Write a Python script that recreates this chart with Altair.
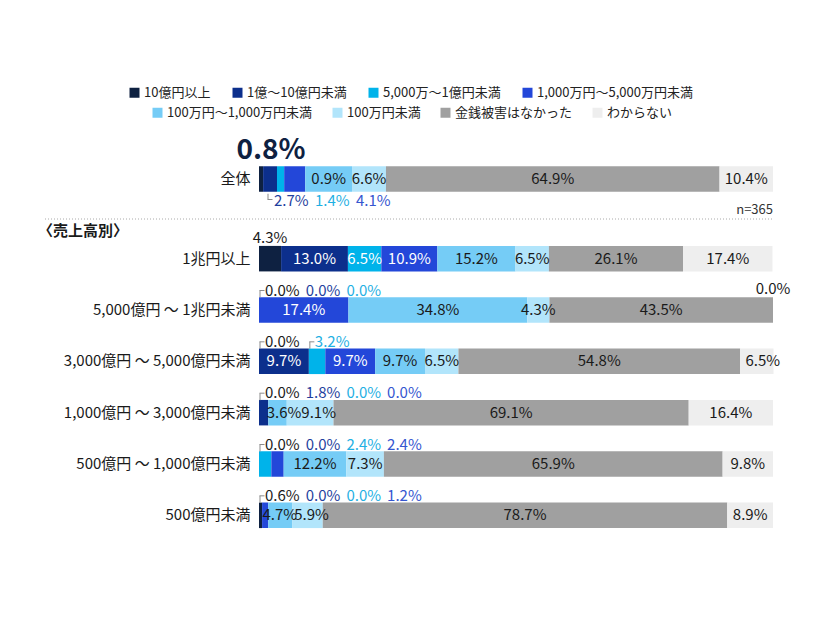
import altair as alt
import pandas as pd

# ---------------- data ----------------
SERIES = [
    "10億円以上", "1億～10億円未満", "5,000万～1億円未満", "1,000万円～5,000万円未満",
    "100万円～1,000万円未満", "100万円未満", "金銭被害はなかった", "わからない",
]
TOTAL_ROW = "全体"
ROWS = [
    "1兆円以上",
    "5,000億円 ～ 1兆円未満",
    "3,000億円 ～ 5,000億円未満",
    "1,000億円 ～ 3,000億円未満",
    "500億円 ～ 1,000億円未満",
    "500億円未満",
]
V_TOTAL = [0.8, 2.7, 1.4, 4.1, 9.1, 6.6, 64.9, 10.4]
V_1CHO = [4.3, 13.0, 6.5, 10.9, 15.2, 6.5, 26.1, 17.4]
V_5000 = [0.0, 0.0, 0.0, 17.4, 34.8, 4.3, 43.5, 0.0]
V_3000 = [0.0, 9.7, 3.2, 9.7, 9.7, 6.5, 54.8, 6.5]
V_1000 = [0.0, 1.8, 0.0, 0.0, 3.6, 9.1, 69.1, 16.4]
V_500_1000 = [0.0, 0.0, 2.4, 2.4, 12.2, 7.3, 65.9, 9.8]
V_500 = [0.6, 0.0, 0.0, 1.2, 4.7, 5.9, 78.7, 8.9]
N_TEXT = "n=365"
HEADER = "〈売上高別〉"
# text printed in the source for the 全体 / 100万円～1,000万円未満 segment
TOTAL_TEXT_OVERRIDE = {4: "0.9%"}

# label placement choices (series indices)
ABOVE_SEQ = {ROWS[1]: [0, 1, 2], ROWS[2]: [0], ROWS[3]: [0, 1, 2, 3],
             ROWS[4]: [0, 1, 2, 3], ROWS[5]: [0, 1, 2, 3]}
ABOVE_AT_SEGMENT = {ROWS[2]: [2]}
ABOVE_CENTERED = {ROWS[0]: [0], ROWS[1]: [7]}
TOTAL_BELOW_SEQ = [1, 2, 3]
TOTAL_BIG = 0
# small pixel nudges of some inside labels (row, series index) -> dx
INSIDE_DX = {(ROWS[2], 7): 6, (ROWS[3], 4): 6.5, (ROWS[3], 5): 8.5,
             (ROWS[5], 4): -0.5, (ROWS[5], 5): 4}

# ---------------- styles ----------------
BAR_COLORS = ["#0e2141", "#0c2f8c", "#00b3ea", "#2347d9",
              "#75ccf6", "#b2e5fb", "#a0a0a0", "#eeeeee"]
INSIDE_TEXT_COLORS = ["#ffffff"] * 4 + ["#1a1a1a"] * 4
OUTSIDE_TEXT_COLORS = ["#1a1a1a", "#1f3f9e", "#1fb0e3", "#3556d0"] + ["#1a1a1a"] * 4
FONT = "Noto Sans CJK JP"
BRACKET = "#8c8c8c"
BAR_SIZE = 25.5
SLOT = 40.7

# ---------------- tables ----------------
ROW_VALUES = dict(zip([TOTAL_ROW] + ROWS,
                      [V_TOTAL, V_1CHO, V_5000, V_3000, V_1000, V_500_1000, V_500]))
recs = []
for row, vals in ROW_VALUES.items():
    cum = 0.0
    for i, (s, v) in enumerate(zip(SERIES, vals)):
        text = f"{v:.1f}%"
        if row == TOTAL_ROW and i in TOTAL_TEXT_OVERRIDE:
            text = TOTAL_TEXT_OVERRIDE[i]
        recs.append(dict(row=row, series=s, idx=i, value=v, start=cum, end=cum + v,
                         mid=cum + v / 2, text=text, nudge=INSIDE_DX.get((row, i), 0),
                         inside=(v > 0) if i >= 4 else (v >= 5)))
        cum += v
seg = pd.DataFrame(recs)


def seg_at(row, i):
    return seg[(seg.row == row) & (seg.idx == i)].iloc[0]


above = []
for row, idxs in ABOVE_SEQ.items():
    for slot, i in enumerate(idxs):
        r = seg_at(row, i)
        above.append(dict(row=row, series=r.series, text=r.text, anchor=0.0,
                          slot=slot, bracket=slot == 0))
for row, idxs in ABOVE_AT_SEGMENT.items():
    for i in idxs:
        r = seg_at(row, i)
        above.append(dict(row=row, series=r.series, text=r.text, anchor=r.start,
                          slot=0, bracket=True))
above = pd.DataFrame(above)

centered = pd.DataFrame([dict(row=row, series=seg_at(row, i).series,
                              text=seg_at(row, i).text, x=seg_at(row, i).mid)
                         for row, idxs in ABOVE_CENTERED.items() for i in idxs])

below = pd.DataFrame([dict(row=TOTAL_ROW, series=seg_at(TOTAL_ROW, i).series,
                           text=seg_at(TOTAL_ROW, i).text, anchor=0.0, slot=k)
                      for k, i in enumerate(TOTAL_BELOW_SEQ)])
big = pd.DataFrame([dict(row=TOTAL_ROW, text=seg_at(TOTAL_ROW, TOTAL_BIG).text, anchor=0.0)])
ntab = pd.DataFrame([dict(row=TOTAL_ROW, text=N_TEXT,
                          anchor=seg[seg.row == TOTAL_ROW].end.max())])
header = pd.DataFrame([dict(t=HEADER)])

# ---------------- encodings ----------------
XS = alt.Scale(domain=[0, 100], nice=False, zero=True)
AX = dict(title=None, domain=False, ticks=False, labelPadding=9, labelFontSize=15,
          labelLimit=400, labelColor="#1a1a1a", labelFont=FONT)
YT = alt.Y("row:N", scale=alt.Scale(domain=[TOTAL_ROW]), axis=alt.Axis(**AX))
YB = alt.Y("row:N", scale=alt.Scale(domain=ROWS, paddingInner=0.5, paddingOuter=0.25),
           axis=alt.Axis(**AX))
INSIDE_COLOR = alt.Color("series:N", scale=alt.Scale(domain=SERIES, range=INSIDE_TEXT_COLORS),
                         legend=None)
OUT_COLOR = alt.Color("series:N", scale=alt.Scale(domain=SERIES, range=OUTSIDE_TEXT_COLORS),
                      legend=None)


def legend(x, y, pad):
    return alt.Legend(orient="none", legendX=x, legendY=y, direction="horizontal",
                      title=None, symbolType="square", symbolSize=100,
                      symbolStrokeWidth=0, labelFontSize=13, labelColor="#222222",
                      labelFont=FONT, labelLimit=400, columnPadding=pad, labelOffset=3,
                      padding=0)


def bars(df, Y, color):
    return alt.Chart(df).mark_bar(size=BAR_SIZE).encode(
        x=alt.X("start:Q", scale=XS, axis=None), x2="end:Q", y=Y, color=color)


def inside_text(df, Y):
    layers = []
    d = df[df.inside]
    for n in sorted(d.nudge.unique()):
        layers.append(alt.Chart(d[d.nudge == n]).mark_text(
            fontSize=15, align="center", baseline="middle", font=FONT, dx=float(n)).encode(
            x=alt.X("mid:Q", scale=XS), y=Y, text="text:N", color=INSIDE_COLOR))
    return layers


def brackets(df, Y, xo_v, yo_v, size_v, xo_h, yo_h, size_h):
    v = alt.Chart(df).mark_tick(orient="vertical", size=size_v, thickness=1, color=BRACKET,
                                xOffset=xo_v, yOffset=yo_v, opacity=1).encode(
        x=alt.X("anchor:Q", scale=XS), y=Y)
    h = alt.Chart(df).mark_tick(orient="horizontal", size=size_h, thickness=1, color=BRACKET,
                                xOffset=xo_h, yOffset=yo_h, opacity=1).encode(
        x=alt.X("anchor:Q", scale=XS), y=Y)
    return [v, h]


# ---------------- top (全体) ----------------
top_seg = seg[seg.row == TOTAL_ROW]
top_layers = [
    bars(top_seg[top_seg.idx < 4], YT,
         alt.Color("series:N", scale=alt.Scale(domain=SERIES[:4], range=BAR_COLORS[:4]),
                   legend=legend(-131, -73, 20))),
    bars(top_seg[top_seg.idx >= 4], YT,
         alt.Color("series:N", scale=alt.Scale(domain=SERIES[4:], range=BAR_COLORS[4:]),
                   legend=legend(-108, -53, 18))),
    *inside_text(top_seg, YT),
    alt.Chart(big).mark_text(fontSize=28, fontWeight="bold", align="center",
                             baseline="middle", dx=12, dy=-28.5, color="#0e2141",
                             font=FONT).encode(
        x=alt.X("anchor:Q", scale=XS), y=YT, text="text:N"),
    alt.Chart(ntab).mark_text(fontSize=13, align="right", baseline="middle", dy=30.5,
                              color="#333333", font=FONT).encode(
        x=alt.X("anchor:Q", scale=XS), y=YT, text="text:N"),
]
for k in range(len(TOTAL_BELOW_SEQ)):
    top_layers.append(
        alt.Chart(below[below.slot == k]).mark_text(
            fontSize=15, align="left", baseline="middle", dx=15 + k * 41, dy=21.5,
            font=FONT).encode(x=alt.X("anchor:Q", scale=XS), y=YT, text="text:N",
                              color=OUT_COLOR))
top_layers += brackets(big, YT, 9, 17.5, 5.5, 11, 20.5, 5)
top = alt.layer(*top_layers).properties(width=514, height=40).resolve_scale(color="independent")

# ---------------- bottom (売上高別) ----------------
bot_seg = seg[seg.row != TOTAL_ROW]
bot_layers = [
    bars(bot_seg, YB, alt.Color("series:N", scale=alt.Scale(domain=SERIES, range=BAR_COLORS),
                                legend=None)),
    *inside_text(bot_seg, YB),
    alt.Chart(centered).mark_text(fontSize=15, align="center", baseline="middle", dy=-21,
                                  font=FONT).encode(
        x=alt.X("x:Q", scale=XS), y=YB, text="text:N", color=OUT_COLOR),
]
for k in range(4):
    bot_layers.append(
        alt.Chart(above[above.slot == k]).mark_text(
            fontSize=15, align="left", baseline="middle", dx=6 + k * SLOT, dy=-19.5,
            font=FONT).encode(x=alt.X("anchor:Q", scale=XS), y=YB, text="text:N",
                              color=OUT_COLOR))
bot_layers += brackets(above[above.bracket], YB, 1, -16, 7, 3, -19.5, 5)
bot_layers += [
    alt.Chart(header).mark_rule(strokeDash=[1, 2], color="#aaaaaa", strokeWidth=1).encode(
        x=alt.value(-214), x2=alt.value(514), y=alt.value(-14)),
    alt.Chart(header).mark_text(align="left", baseline="middle", fontSize=15,
                                fontWeight="bold", color="#1a1a1a", font=FONT).encode(
        x=alt.value(-221), y=alt.value(-2), text="t:N"),
]
bottom = alt.layer(*bot_layers).properties(width=514, height=308).resolve_scale(color="independent")

chart = alt.vconcat(top, bottom, spacing=34, bounds="flush").resolve_scale(
    color="independent").properties(
    padding={"left": 38, "top": 86, "right": 10, "bottom": 10}
).configure(font=FONT).configure_view(stroke=None)

chart.save("out.html", embed_options={"renderer": "svg", "actions": False})
